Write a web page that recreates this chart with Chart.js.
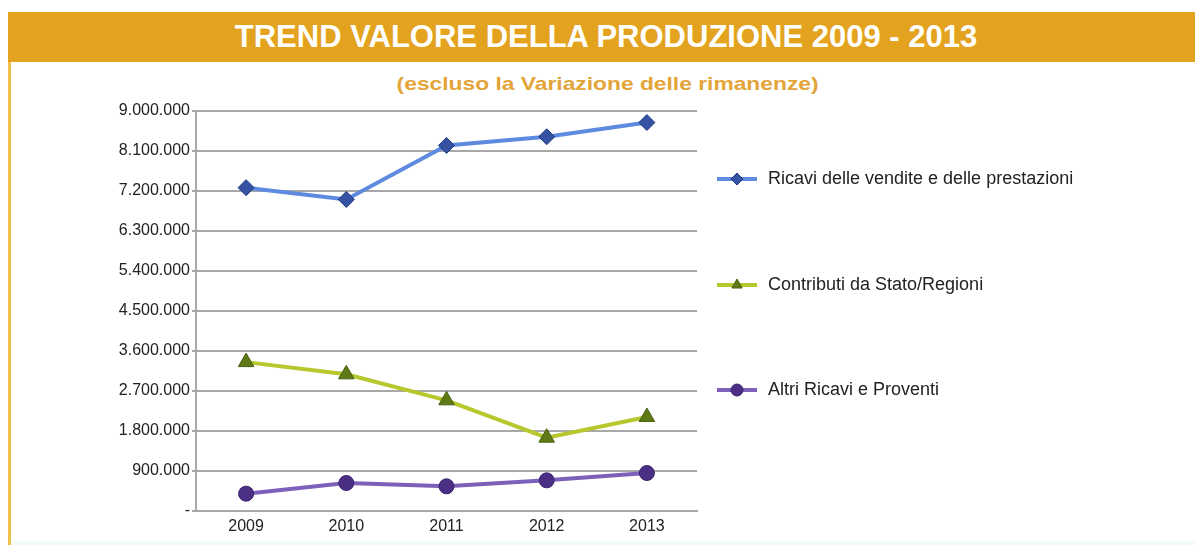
<!DOCTYPE html>
<html>
<head>
<meta charset="utf-8">
<script src="https://cdn.jsdelivr.net/npm/chart.js@4/dist/chart.umd.min.js"></script>
<style>
  html, body { margin: 0; padding: 0; background: #ffffff; }
  #wrap { position: relative; width: 1195px; height: 545px; overflow: hidden; background: #ffffff; }
  #banner { position: absolute; left: 8px; top: 12px; width: 1187px; height: 50px; background: #E4A31E; }
  #title { position: absolute; left: 0px; top: 12px; width: 1212px; height: 50px;
           text-align: center; color: #ffffff; font: bold 31px "Liberation Sans", Arial, sans-serif; line-height: 50px; }
  #leftline { position: absolute; left: 8px; top: 62px; width: 3px; height: 483px; background: #EFC04A; }
  #bottomstrip { position: absolute; left: 11px; top: 541px; width: 1184px; height: 4px; background: #F1FAF3; }
  #subtitle { position: absolute; left: 0; top: 73px; width: 1215px; text-align: center;
              color: #E3A53A; font: bold 19px "Liberation Sans", Arial, sans-serif; line-height: 22px;
              transform: scaleX(1.2); transform-origin: 607px 11px; }
  canvas { position: absolute; left: 0; top: 0; }
</style>
</head>
<body>
<div id="wrap">
  <div id="banner"></div>
  <div id="title">TREND VALORE DELLA PRODUZIONE 2009 - 2013</div>
  <div id="leftline"></div>
  <div id="bottomstrip"></div>
  <div id="subtitle">(escluso la Variazione delle rimanenze)</div>
  <canvas id="c" width="1195" height="545"></canvas>
</div>
<script>
const categories = ['2009', '2010', '2011', '2012', '2013'];
const ricaviVendite = [7275000, 7010000, 8225000, 8420000, 8740000];
const contributiStato = [3350000, 3075000, 2490000, 1650000, 2115000];
const altriRicavi = [390000, 630000, 555000, 690000, 855000];
const yTickLabels = ['-', '900.000', '1.800.000', '2.700.000', '3.600.000', '4.500.000',
                     '5.400.000', '6.300.000', '7.200.000', '8.100.000', '9.000.000'];
const seriesNames = ['Ricavi delle vendite e delle prestazioni', 'Contributi da Stato/Regioni', 'Altri Ricavi e Proventi'];

const FONT = '"Liberation Sans", Arial, sans-serif';

const legendPlugin = {
  id: 'sideLegend',
  afterDraw(chart) {
    const ctx = chart.ctx;
    const ys = [179, 285, 390];
    chart.data.datasets.forEach((ds, i) => {
      const y = ys[i];
      ctx.save();
      ctx.strokeStyle = ds.borderColor;
      ctx.lineWidth = 4;
      ctx.beginPath();
      ctx.moveTo(717, y);
      ctx.lineTo(757, y);
      ctx.stroke();
      ctx.fillStyle = ds.pointBackgroundColor;
      ctx.strokeStyle = ds.pointBorderColor;
      ctx.lineWidth = 1;
      Chart.helpers.drawPoint(ctx, { pointStyle: ds.pointStyle, radius: 6, borderWidth: 1, rotation: 0 }, 737, y);
      ctx.fillStyle = '#222222';
      ctx.font = '18px ' + FONT;
      ctx.textBaseline = 'middle';
      ctx.textAlign = 'left';
      ctx.fillText(ds.label, 768, y);
      ctx.restore();
    });
  }
};

new Chart(document.getElementById('c'), {
  type: 'line',
  data: {
    labels: categories,
    datasets: [
      { label: seriesNames[0], data: ricaviVendite, borderColor: '#5E8AE0', borderWidth: 4,
        pointStyle: 'rectRot', pointRadius: 8, pointBackgroundColor: '#3552A3', pointBorderColor: '#1F3A80', pointBorderWidth: 1 },
      { label: seriesNames[1], data: contributiStato, borderColor: '#B6C82E', borderWidth: 4,
        pointStyle: 'triangle', pointRadius: 9, pointBackgroundColor: '#5E7A16', pointBorderColor: '#4A6210', pointBorderWidth: 1 },
      { label: seriesNames[2], data: altriRicavi, borderColor: '#7D60BA', borderWidth: 4,
        pointStyle: 'circle', pointRadius: 7.5, pointBackgroundColor: '#4B2F85', pointBorderColor: '#3A226E', pointBorderWidth: 1 }
    ]
  },
  options: {
    responsive: false,
    devicePixelRatio: 1,
    animation: false,
    layout: { padding: { left: 0, top: 111, right: 498, bottom: 10 } },
    plugins: { legend: { display: false }, tooltip: { enabled: false }, title: { display: false } },
    elements: { line: { tension: 0 } },
    scales: {
      x: {
        offset: true,
        grid: { display: false, drawTicks: false },
        border: { display: true, color: '#a8a8a8', width: 2 },
        ticks: { color: '#222222', font: { family: FONT, size: 16 }, padding: 6 },
        afterFit(scale) { scale.height = 24; }
      },
      y: {
        min: 0, max: 9000000,
        ticks: { stepSize: 900000, color: '#222222', font: { family: FONT, size: 16 }, padding: 2,
                 callback: (v, i) => yTickLabels[i] },
        grid: { color: '#a8a8a8', lineWidth: 2, tickLength: 4 },
        border: { display: true, color: '#a8a8a8', width: 2 },
        afterFit(scale) { scale.width = 196; }
      }
    }
  },
  plugins: [legendPlugin]
});
</script>
</body>
</html>
